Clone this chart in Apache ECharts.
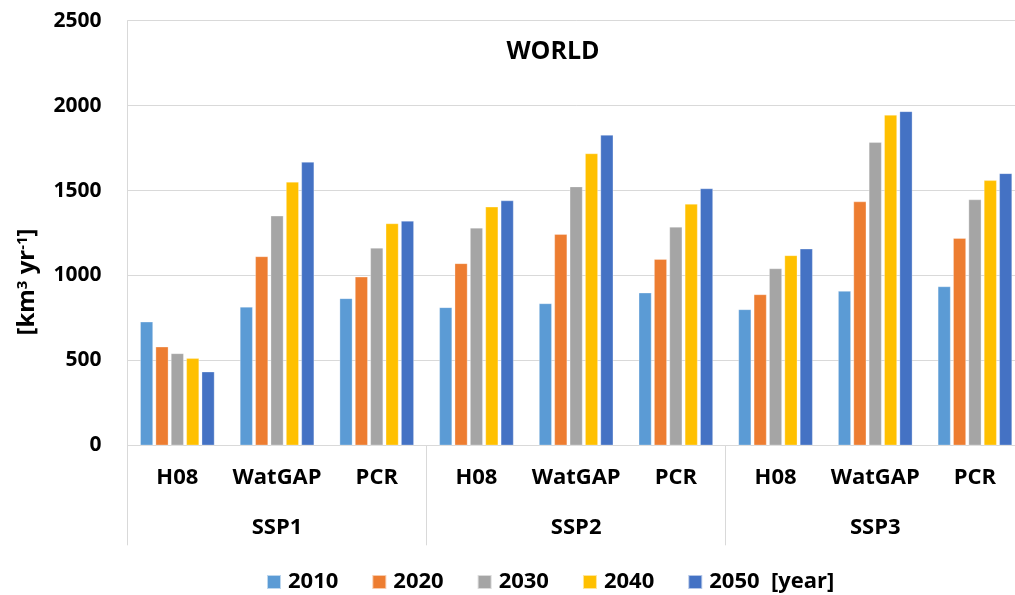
<!DOCTYPE html>
<html>
<head>
<meta charset="utf-8">
<script src="https://cdn.jsdelivr.net/npm/echarts@6/dist/echarts.min.js"></script>
<style>html,body{margin:0;padding:0;background:#fff;overflow:hidden}#c{width:1025px;height:595px}</style>
</head>
<body>
<div id="c"></div>
<script>
const models = ['H08','WatGAP','PCR','H08','WatGAP','PCR','H08','WatGAP','PCR'];
const scenarios = ['SSP1','SSP2','SSP3'];
const years = ['2010','2020','2030','2040','2050  [year]'];
const v2010 = [727, 815, 865, 812, 835, 898, 800, 908, 935];
const v2020 = [580, 1112, 992, 1071, 1243, 1096, 888, 1435, 1219];
const v2030 = [541, 1351, 1162, 1280, 1523, 1286, 1041, 1784, 1447];
const v2040 = [512, 1551, 1306, 1404, 1718, 1421, 1118, 1945, 1560];
const v2050 = [433, 1668, 1321, 1441, 1827, 1512, 1157, 1966, 1601];
const yTicks = [0, 500, 1000, 1500, 2000, 2500];

const colors = ['#5B9BD5','#ED7D31','#A5A5A5','#FFC000','#4472C4'];
const FONT = '"Open Sans", Lato, sans-serif';
const valueSets = [v2010, v2020, v2030, v2040, v2050];

const chart = echarts.init(document.getElementById('c'));
chart.setOption({
  animation: false,
  color: colors,
  textStyle: {fontFamily: FONT},
  grid: {left: 127.5, top: 20.7, right: 0.2, bottom: 149.7, containLabel: false},
  title: {
    text: 'WORLD', left: 548, top: 34, textAlign: 'center',
    textStyle: {fontFamily: FONT, fontSize: 25, fontWeight: 'bold', color: '#000'}
  },
  legend: {
    left: 261, top: 566, itemWidth: 14, itemHeight: 14, itemGap: 33,
    icon: 'rect',
    textStyle: {fontFamily: FONT, fontSize: 22, fontWeight: 'bold', color: '#000', padding: [0,0,0,2]},
    data: years
  },
  xAxis: [
    {
      type: 'category', data: models, position: 'bottom',
      axisLine: {show: true, lineStyle: {color: '#d9d9d9', width: 1}},
      axisTick: {show: false},
      axisLabel: {interval: 0, margin: 21, fontFamily: FONT, fontSize: 22, fontWeight: 'bold', color: '#000'},
      splitLine: {show: false}
    },
    {
      type: 'category', data: scenarios, position: 'bottom',
      axisLine: {show: false},
      axisTick: {show: true, interval: 0, length: 100, lineStyle: {color: '#d9d9d9', width: 1}},
      axisLabel: {interval: 0, margin: 71, fontFamily: FONT, fontSize: 22, fontWeight: 'bold', color: '#000'},
      splitLine: {show: false}
    }
  ],
  yAxis: {
    type: 'value', min: yTicks[0], max: yTicks[yTicks.length-1], interval: 500,
    axisLine: {show: true, lineStyle: {color: '#d9d9d9', width: 1}},
    axisTick: {show: false},
    axisLabel: {margin: 26, fontFamily: FONT, fontSize: 21, fontWeight: 'bold', color: '#000',
      formatter: v => String(v)},
    splitLine: {show: true, lineStyle: {color: '#d9d9d9', width: 1}}
  },
  graphic: [{
    type: 'text', x: 27, y: 282, rotation: Math.PI / 2,
    style: {
      text: '{a|[km}{s|3}{a| yr}{s|-1}{a|]}',
      align: 'center', verticalAlign: 'middle',
      rich: {
        a: {fontFamily: FONT, fontSize: 24, fontWeight: 'bold', fill: '#000', color: '#000'},
        s: {fontFamily: FONT, fontSize: 15, fontWeight: 'bold', fill: '#000', color: '#000', verticalAlign: 'top'}
      }
    }
  }],
  series: valueSets.map((vals, i) => ({
    name: years[i], type: 'bar', xAxisIndex: 0, data: vals,
    barWidth: 12.7, barGap: '21%',
    itemStyle: {color: colors[i], borderColor: 'rgba(255,255,255,0.6)', borderWidth: 0.5}
  }))
});
</script>
</body>
</html>
